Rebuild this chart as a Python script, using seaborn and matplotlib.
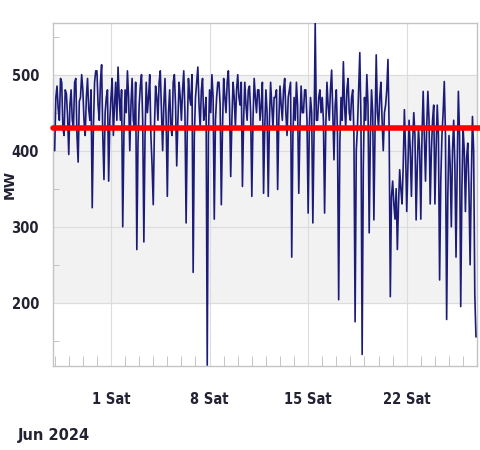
import matplotlib
matplotlib.use("Agg")
import matplotlib.pyplot as plt
import matplotlib.dates as mdates
import numpy as np
import pandas as pd
import seaborn as sns

# ---- data (2-hour steps from 2024-05-28 00:00) ----
start_time = "2024-05-28 00:00"
step = "2h"
load_mw = [
    400, 470, 485, 455, 440, 495, 490, 430, 420, 480, 475, 445,   # May 28
    395, 460, 480, 440, 430, 490, 495, 420, 385, 465, 470, 500,   # May 29
    480, 440, 420, 470, 495, 455, 440, 480, 325, 430, 490, 505,   # May 30
    505, 460, 440, 490, 513, 420, 362, 450, 470, 480, 360, 440,   # May 31
    470, 495, 420, 460, 490, 440, 510, 470, 440, 480, 300, 420,   # Jun 1
    480, 450, 505, 470, 400, 460, 495, 440, 430, 490, 270, 410,   # Jun 2
    460, 485, 500, 440, 280, 420, 490, 450, 470, 500, 420, 380,   # Jun 3
    329, 430, 485, 470, 440, 490, 505, 450, 400, 460, 495, 440,   # Jun 4
    340, 450, 480, 430, 420, 490, 500, 460, 380, 440, 490, 470,   # Jun 5
    440, 480, 505, 450, 305, 430, 495, 470, 460, 500, 240, 420,   # Jun 6
    470, 490, 510, 460, 430, 480, 495, 440, 450, 470, 118, 420,   # Jun 7
    480, 450, 500, 470, 310, 440, 470, 490, 490, 460, 329, 430,   # Jun 8
    495, 470, 450, 490, 505, 460, 366, 440, 490, 470, 430, 480,   # Jun 9
    500, 470, 460, 490, 353, 440, 490, 460, 440, 480, 485, 450,   # Jun 10
    340, 440, 495, 470, 450, 480, 480, 440, 460, 490, 344, 430,   # Jun 11
    480, 450, 340, 440, 490, 460, 430, 470, 470, 480, 349, 440,   # Jun 12
    485, 460, 440, 480, 495, 450, 420, 470, 480, 490, 260, 420,   # Jun 13
    470, 440, 490, 460, 344, 430, 485, 450, 450, 480, 480, 440,   # Jun 14
    318, 430, 470, 450, 305, 420, 568, 440, 440, 470, 480, 450,   # Jun 15
    470, 440, 318, 430, 490, 460, 440, 480, 506, 450, 388, 460,   # Jun 16
    480, 420, 204, 410, 470, 440, 517, 460, 430, 480, 495, 450,   # Jun 17
    440, 470, 480, 420, 175, 400, 430, 480, 529, 440, 132, 380,   # Jun 18
    470, 440, 500, 460, 292, 420, 480, 450, 309, 430, 526, 450,   # Jun 19
    430, 470, 490, 440, 400, 450, 460, 480, 520, 430, 208, 340,   # Jun 20
    360, 330, 310, 350, 270, 330, 375, 350, 330, 380, 454, 400,   # Jun 21
    320, 380, 440, 400, 340, 410, 450, 420, 309, 380, 430, 400,   # Jun 22
    310, 420, 478, 420, 360, 430, 478, 440, 330, 400, 440, 460,   # Jun 23
    330, 400, 460, 420, 230, 360, 420, 450, 491, 420, 178, 340,   # Jun 24
    420, 380, 300, 400, 440, 380, 260, 380, 478, 420, 195, 350,   # Jun 25
    430, 400, 320, 390, 410, 350, 250, 360, 445, 400, 210, 155,   # Jun 26
]
threshold_mw = 430
y_ticks = [200, 300, 400, 500]
y_label = "MW"
date_caption = "Jun 2024"

df = pd.DataFrame({
    "time": pd.date_range(start_time, periods=len(load_mw), freq=step),
    "MW": load_mw,
})

sns.set_style("white")
fig = plt.figure(figsize=(4.81, 4.50), dpi=100)
ax = fig.add_axes([0.110, 0.187, 0.882, 0.762])

ax.axhspan(200, 500, color="#f2f2f2", zorder=0)
sns.lineplot(data=df, x="time", y="MW", ax=ax, color="#1c1c78", linewidth=1.2, zorder=3)
ax.axhline(threshold_mw, xmin=0, xmax=1.01, color="#ff0000", linewidth=4.0,
           clip_on=False, zorder=5)

ax.set_xlim(pd.Timestamp("2024-05-27 21:00"), pd.Timestamp("2024-06-27 00:00"))
ax.set_ylim(117, 568)

ax.xaxis.set_major_locator(mdates.WeekdayLocator(byweekday=mdates.SA))
ax.xaxis.set_major_formatter(mdates.DateFormatter("%-d %a"))
ax.xaxis.set_minor_locator(mdates.DayLocator())
ax.set_yticks(y_ticks)
ax.yaxis.set_minor_locator(matplotlib.ticker.MultipleLocator(50))

ax.grid(True, which="major", color="#dcdcdc", linewidth=0.8, zorder=1)
ax.set_axisbelow(True)

for s in ax.spines.values():
    s.set_color("#c4c4c4")
    s.set_linewidth(1.0)

ax.tick_params(axis="x", which="major", direction="out", length=7, color="#999999",
               pad=12, labelsize=10.5, labelcolor="#222233")
ax.tick_params(axis="x", which="minor", direction="in", length=7, color="#bbbbbb", bottom=True)
ax.tick_params(axis="y", which="major", direction="out", length=4, color="#999999",
               pad=6, labelsize=10.5, labelcolor="#222233")
ax.tick_params(axis="y", which="minor", direction="in", length=4, color="#bbbbbb", left=True)
for lab in ax.get_xticklabels() + ax.get_yticklabels():
    lab.set_fontweight("bold")
    lab.set_fontstretch("condensed")

ax.set_xlabel("")
ax.set_ylabel("")
fig.text(0.02, 0.59, y_label, rotation=90, ha="center", va="center",
         fontsize=10, fontweight="bold", color="#222233")
fig.text(0.037, 0.032, date_caption, ha="left", va="center",
         fontsize=10.5, fontweight="bold", color="#222233")

fig.savefig("out.png", dpi=100)
